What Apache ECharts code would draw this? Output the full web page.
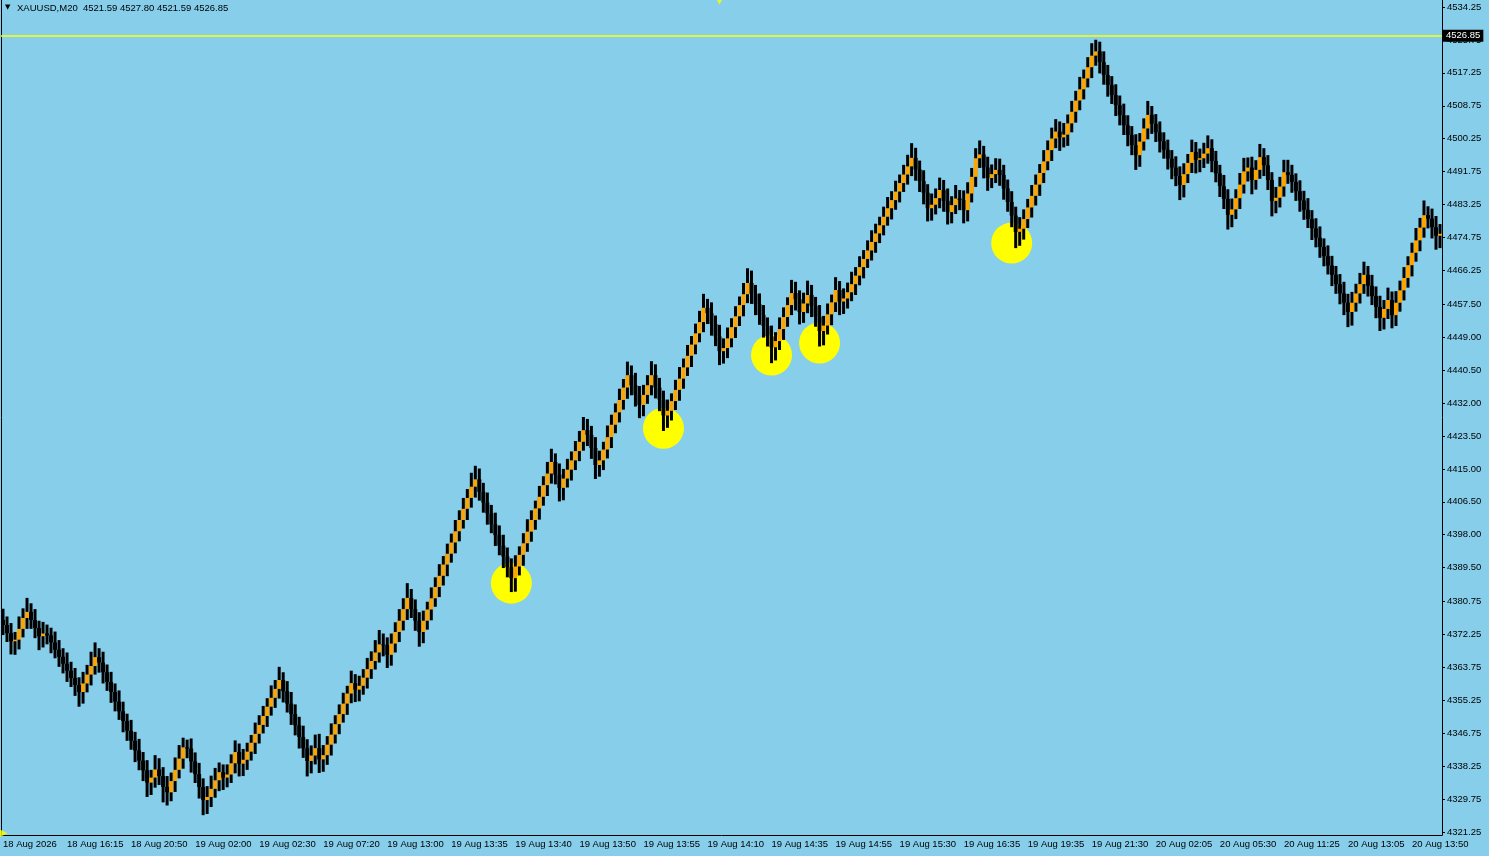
<!DOCTYPE html>
<html>
<head>
<meta charset="utf-8">
<script src="https://cdn.jsdelivr.net/npm/echarts@6/dist/echarts.min.js"></script>
<style>
html,body{margin:0;padding:0;background:#87CEEB;}
#chart{width:1489px;height:856px;}
</style>
</head>
<body>
<div id="chart"></div>
<script>
// ---- data ----
const symbolTitle = 'XAUUSD,M20  4521.59 4527.80 4521.59 4526.85';
const bidPrice = 4526.85;
const timeLabels = ['18 Aug 2026','18 Aug 16:15','18 Aug 20:50','19 Aug 02:00','19 Aug 02:30','19 Aug 07:20','19 Aug 13:00','19 Aug 13:35','19 Aug 13:40','19 Aug 13:50','19 Aug 13:55','19 Aug 14:10','19 Aug 14:35','19 Aug 14:55','19 Aug 15:30','19 Aug 16:35','19 Aug 19:35','19 Aug 21:30','20 Aug 02:05','20 Aug 05:30','20 Aug 11:25','20 Aug 13:05','20 Aug 13:50'];
const barsPerLabel = 16;
const priceTicks = [4534.25,4525.75,4517.25,4508.75,4500.25,4491.75,4483.25,4474.75,4466.25,4457.50,4449.00,4440.50,4432.00,4423.50,4415.00,4406.50,4398.00,4389.50,4380.75,4372.25,4363.75,4355.25,4346.75,4338.25,4329.75,4321.25];
const firstOpen = 4376.0;
const closes = [
4374.7,4372.6,4370.5,4370.9,4373.7,4376.5,4378.1,4376.0,4373.9,4371.8,4372.5,4372.0,4370.2,4368.3,4366.5,4364.7,4362.9,4361.0,4359.2,4357.4,
4359.6,4361.9,4364.1,4366.4,4365.0,4362.5,4360.0,4357.4,4354.9,4352.4,4349.9,4347.4,4344.8,4342.3,4339.7,4337.2,4334.0,4335.3,4337.4,4335.7,
4332.9,4331.5,4334.4,4337.3,4340.2,4343.1,4342.8,4339.5,4336.2,4332.9,4329.5,4330.3,4332.4,4334.6,4336.7,4335.3,4336.1,4339.0,4341.9,4338.9,
4339.9,4342.0,4344.3,4346.6,4348.9,4351.2,4353.6,4355.9,4358.2,4360.5,4357.6,4354.4,4351.7,4348.8,4345.8,4342.9,4339.6,4341.0,4342.9,4340.0,
4341.1,4343.8,4346.4,4349.1,4351.7,4354.4,4357.0,4359.7,4358.0,4359.0,4361.1,4363.3,4365.4,4367.6,4369.7,4369.5,4367.0,4369.9,4372.9,4375.8,
4378.8,4381.7,4378.8,4375.8,4372.9,4375.8,4378.7,4381.6,4384.5,4387.4,4390.3,4393.1,4396.0,4398.9,4401.8,4404.7,4407.5,4410.4,4412.3,4409.1,
4406.3,4403.5,4400.7,4397.9,4395.2,4392.4,4389.6,4386.8,4389.8,4392.8,4395.8,4398.8,4401.8,4404.8,4407.8,4410.8,4413.8,4416.8,4413.5,4410.1,
4412.5,4414.8,4417.2,4419.6,4422.0,4425.0,4423.8,4420.4,4416.0,4417.2,4420.0,4423.2,4426.4,4429.6,4432.8,4436.0,4439.2,4436.6,4434.1,4431.5,
4434.1,4436.6,4439.2,4436.0,4432.9,4428.8,4430.0,4432.5,4435.4,4438.3,4441.2,4444.2,4447.1,4450.0,4452.9,4456.6,4455.2,4452.4,4449.2,4445.4,
4446.2,4448.7,4451.6,4454.4,4457.3,4460.1,4463.0,4460.2,4457.5,4454.7,4451.9,4449.2,4446.4,4448.0,4451.1,4454.2,4457.3,4460.4,4458.8,4455.5,
4457.7,4459.9,4457.1,4454.3,4450.6,4452.0,4454.9,4458.0,4461.2,4458.2,4459.0,4460.6,4462.7,4464.9,4467.1,4469.2,4471.4,4473.6,4475.8,4477.9,
4480.1,4482.3,4484.4,4486.6,4488.8,4491.0,4493.1,4495.3,4492.3,4489.3,4486.3,4482.3,4483.2,4484.9,4487.0,4484.2,4481.3,4483.1,4484.8,4484.4,
4481.8,4486.1,4490.4,4495.2,4496.2,4492.8,4490.1,4491.1,4492.2,4490.9,4487.4,4483.9,4480.4,4476.2,4477.0,4479.5,4482.5,4485.5,4488.4,4491.4,
4494.4,4497.3,4500.3,4502.1,4500.6,4501.3,4504.2,4507.2,4510.1,4513.0,4515.8,4518.7,4521.7,4522.8,4520.0,4516.7,4514.1,4511.5,4508.9,4506.3,
4503.7,4501.2,4498.6,4496.0,4499.5,4502.9,4506.4,4504.1,4501.9,4499.6,4497.4,4495.1,4492.8,4490.6,4488.3,4491.1,4494.0,4496.8,4494.8,4495.2,
4496.4,4497.8,4494.5,4491.3,4488.0,4484.7,4480.6,4482.0,4484.9,4488.4,4491.8,4492.8,4489.6,4492.2,4495.5,4493.4,4489.6,4484.2,4485.0,4487.9,
4491.6,4490.9,4489.1,4486.7,4484.3,4481.9,4479.5,4477.1,4474.7,4472.3,4469.9,4467.5,4465.1,4462.7,4460.3,4457.9,4455.5,4457.9,4460.3,4462.7,
4465.1,4462.3,4459.6,4456.8,4454.0,4456.3,4458.6,4454.7,4457.9,4461.1,4464.3,4467.6,4470.8,4474.0,4477.3,4480.5,4479.6,4477.4,4475.2,4475.7
];
const upperWicks = [
2.9,2.2,2.6,2.0,3.2,2.5,3.6,2.2,2.8,1.9,3.0,2.3,2.0,2.8,2.5,2.2,2.9,2.3,2.6,2.0,
3.0,2.5,3.7,3.8,2.3,2.8,2.0,2.6,2.2,2.9,2.5,1.9,2.8,2.3,3.0,2.2,2.6,2.0,3.7,2.9,
2.3,2.8,2.2,3.2,3.5,2.5,2.0,2.6,2.3,2.9,2.2,2.8,3.4,3.2,2.5,2.0,2.6,2.3,3.0,2.2,
2.8,2.3,2.0,2.9,2.5,2.6,2.2,3.2,2.3,3.4,2.0,2.6,3.0,2.5,2.2,2.9,2.3,2.6,3.5,3.7,
2.6,2.2,2.9,2.3,2.5,2.8,2.0,3.2,2.3,2.6,2.2,2.9,2.5,3.2,3.7,2.8,2.0,2.6,2.5,3.0,
2.8,3.8,2.3,2.5,2.2,2.6,2.0,2.8,2.5,3.0,2.2,2.6,2.3,2.9,2.5,2.8,2.3,3.6,3.5,2.8,
2.3,2.6,2.2,3.0,2.5,2.8,2.3,2.3,2.9,2.2,2.6,3.2,2.5,2.0,2.8,2.3,3.0,3.4,2.2,2.9,
2.5,2.8,2.3,2.6,2.8,3.4,2.9,2.3,2.8,2.5,2.0,3.0,2.6,2.3,2.9,2.2,3.5,2.5,3.2,2.3,
2.6,2.6,3.6,2.8,2.5,2.3,2.9,2.0,2.6,3.0,2.3,2.8,2.2,2.5,2.9,3.6,2.3,2.8,2.2,3.0,
2.5,2.8,2.3,2.6,2.2,2.9,3.8,3.2,2.3,2.8,2.6,2.2,2.8,2.3,3.0,2.5,2.0,3.4,2.9,2.3,
2.8,3.7,2.6,2.3,3.0,2.5,2.8,2.0,3.3,2.3,2.6,2.5,3.2,2.2,2.8,2.3,2.6,3.0,2.5,2.2,
2.6,2.9,2.3,2.8,2.2,2.5,3.0,3.8,2.6,2.3,2.8,2.2,2.9,2.5,3.2,2.6,3.2,2.3,3.5,2.2,
2.5,2.9,2.3,2.6,3.6,2.2,2.8,2.5,3.0,2.9,2.6,2.3,2.8,2.3,3.0,2.5,2.2,2.8,2.6,2.3,
2.9,2.5,2.8,3.2,2.6,3.0,2.3,2.8,2.5,3.2,2.3,2.6,3.2,3.0,2.5,2.8,2.6,2.3,2.8,2.5,
3.0,2.6,2.3,2.8,2.2,2.6,3.6,2.3,2.5,2.8,2.3,2.6,2.2,2.9,2.5,2.8,2.3,3.2,2.6,2.5,
2.8,3.3,2.3,2.6,2.2,2.9,2.5,2.8,2.3,3.0,3.5,2.6,2.8,2.5,3.4,2.3,2.6,2.0,2.8,2.5,
3.2,3.2,2.6,2.2,2.8,2.5,3.0,2.3,2.6,2.9,2.2,2.8,2.5,2.3,2.6,3.0,2.3,2.8,2.5,2.9,
3.4,2.3,2.8,2.5,2.9,2.3,3.2,2.2,3.0,2.5,2.8,2.3,2.6,3.2,2.5,3.8,2.3,2.6,2.9,2.5
];
const lowerWicks = [
2.6,2.3,3.4,3.5,2.5,2.2,2.8,2.3,2.6,3.6,2.9,2.3,2.8,2.2,2.6,2.5,2.9,2.3,2.8,3.8,
3.0,2.3,2.8,2.2,2.6,2.9,2.3,2.8,2.5,2.2,2.9,2.6,2.3,3.0,2.5,2.8,3.7,3.2,2.6,2.3,
4.0,3.4,2.3,2.8,2.2,2.6,2.5,2.9,2.3,3.0,3.9,3.6,2.6,2.3,2.8,3.2,2.5,2.2,2.6,3.3,
3.2,2.6,2.3,2.9,2.5,2.2,2.8,2.3,2.6,2.5,2.9,2.3,2.8,2.6,3.0,2.5,4.0,3.2,2.3,3.5,
3.2,2.5,2.8,2.3,2.6,2.2,2.9,2.5,3.2,3.0,2.3,2.8,2.5,2.2,2.6,2.9,3.4,2.8,2.3,2.6,
2.5,2.8,2.3,2.6,3.8,2.9,2.3,2.8,2.2,2.6,2.5,3.0,2.3,2.8,2.6,2.2,2.9,2.5,2.8,2.3,
2.6,2.9,2.3,2.8,2.5,3.0,2.6,3.6,3.5,2.3,2.8,2.2,2.6,2.5,2.9,2.3,2.8,2.6,2.5,3.5,
3.2,2.3,2.8,2.5,2.6,2.3,2.9,2.8,3.6,3.0,2.5,2.3,2.8,2.2,2.6,2.5,2.9,2.6,3.0,3.4,
2.9,2.3,2.6,2.8,3.0,4.0,3.2,2.5,2.3,2.8,2.6,2.2,2.9,2.5,2.3,2.6,2.8,3.0,2.5,3.6,
3.2,2.6,2.3,2.8,2.5,2.9,2.3,2.6,2.8,2.5,3.0,2.6,4.1,3.4,2.3,2.8,2.5,2.6,2.9,3.2,
2.8,2.5,2.9,2.6,4.0,3.7,2.3,2.8,2.5,3.5,3.2,2.6,2.3,2.8,2.5,2.9,2.3,2.6,2.8,2.5,
2.6,2.3,2.9,2.5,2.8,2.3,2.6,2.5,2.9,2.8,3.0,3.4,3.2,2.5,2.6,2.8,3.2,2.9,2.3,2.6,
3.4,2.9,2.3,2.6,2.5,2.8,3.3,2.6,2.3,2.8,2.9,2.5,3.0,4.2,3.6,2.8,2.3,2.6,2.5,2.9,
2.6,2.3,2.8,2.5,3.5,2.6,2.9,2.3,2.8,2.5,2.6,2.3,2.8,2.6,2.9,2.5,3.0,2.3,2.8,2.6,
2.5,2.9,2.6,3.8,3.0,2.3,2.8,2.6,2.5,2.9,2.3,2.8,3.0,2.6,3.9,3.2,2.3,2.6,3.5,3.2,
2.5,2.6,2.9,2.3,2.8,2.6,3.8,3.2,2.5,2.8,2.3,2.6,3.7,2.5,2.3,2.8,2.6,4.0,3.2,2.5,
2.6,2.3,2.8,2.5,2.9,2.6,2.3,3.0,2.5,2.8,2.6,2.3,2.9,2.5,2.8,3.2,3.9,3.5,2.3,2.6,
2.5,2.8,2.3,2.9,3.4,3.0,2.6,3.4,2.8,2.3,2.6,2.5,2.9,2.3,2.8,2.6,2.5,2.9,3.6,3.2
];
// yellow circle markers: [bar index, price]
const circleMarks = [[127,4385.5],[165,4425.5],[192,4444.4],[204,4447.5],[252,4473.3]];
// yellow arrow objects: [bar index, price, rotation]
const arrowMarks = [[179,4536.0,180],[0,4320.9,-90]];

// ---- build ----
const cats = closes.map((c,i)=> i % barsPerLabel === 0 && timeLabels[i/barsPerLabel] ? timeLabels[i/barsPerLabel] : '');
const ohlc = closes.map((c,i)=>{
  const o = i === 0 ? firstOpen : closes[i-1];
  return [i, o, c, Math.min(o,c) - lowerWicks[i], Math.max(o,c) + upperWicks[i]];
});
const FONT = 'Liberation Sans';
const FS = 9.5;
const Y_MIN = 4320.48, Y_MAX = 4536.06;
const showIdx = (idx) => idx % barsPerLabel === 0;

const chart = echarts.init(document.getElementById('chart'), null, {renderer:'canvas'});
chart.setOption({
  animation: false,
  backgroundColor: '#87CEEB',
  textStyle: {fontFamily: FONT},
  title: {
    text: symbolTitle, left: 17, top: 3, padding: 0,
    textStyle: {fontSize: FS, fontWeight: 'normal', color: '#000', fontFamily: FONT}
  },
  graphic: [{type:'text', left: 5, top: 4, style:{text:'▼', fontSize: 7, fill:'#000', fontFamily:'DejaVu Sans'}}],
  grid: {left: 0, right: 47, top: 0, bottom: 21, containLabel: false},
  xAxis: {
    type: 'category', data: cats, boundaryGap: true,
    axisLine: {lineStyle: {color: '#000', width: 1}},
    axisTick: {alignWithLabel: true, interval: showIdx, length: 4, lineStyle:{color:'#000'}},
    axisLabel: {interval: showIdx, align: 'left', margin: 4, fontSize: FS, color: '#000', fontFamily: FONT},
    splitLine: {show: false}
  },
  yAxis: [{
    type: 'value', position: 'right', min: Y_MIN, max: Y_MAX, scale: true,
    axisLine: {show: true, lineStyle: {color: '#000'}},
    axisTick: {show: true, length: 3, customValues: priceTicks, lineStyle:{color:'#000'}},
    axisLabel: {customValues: priceTicks, margin: 5, fontSize: FS, color: '#000', fontFamily: FONT,
      formatter: v => v.toFixed(2)},
    splitLine: {show: false}
  },{
    type: 'value', position: 'left', min: Y_MIN, max: Y_MAX,
    axisLine: {show: true, lineStyle: {color: '#000'}},
    axisTick: {show: false}, axisLabel: {show: false}, splitLine: {show: false}
  }],
  series: [
    {
      type: 'scatter', z: 1, data: circleMarks, symbol: 'circle', symbolSize: 41,
      itemStyle: {color: '#FFFF00', opacity: 1}, silent: true
    },
    {
      type: 'custom', z: 2, data: ohlc, clip: true,
      encode: {x: 0, y: [1,2,3,4]},
      renderItem: function(params, api){
        const i = api.value(0), o = api.value(1), c = api.value(2), l = api.value(3), h = api.value(4);
        const pO = api.coord([i, o]), pC = api.coord([i, c]), pL = api.coord([i, l]), pH = api.coord([i, h]);
        const bw = api.size([1, 0])[0];
        const x = pO[0];
        const top = Math.min(pO[1], pC[1]);
        const hgt = Math.max(1, Math.abs(pO[1] - pC[1]));
        return {type:'group', children:[
          {type:'rect', shape:{x: x - 1.5, y: pH[1], width: 3, height: pL[1] - pH[1]}, style:{fill:'#000'}},
          {type:'rect', shape:{x: x - bw/2, y: top, width: bw, height: hgt}, style:{fill: c > o ? '#FFA500' : '#000'}}
        ]};
      },
      markLine: {
        silent: true, symbol: ['none','none'], animation: false,
        lineStyle: {color: '#FFFF00', width: 1.5, type: 'solid', opacity: 1},
        emphasis: {disabled: true},
        label: {show: true, position: 'end', distance: 1, formatter: () => bidPrice.toFixed(2),
          backgroundColor: '#000', color: '#fff', padding: [1,3,1,3], fontSize: FS, fontFamily: FONT},
        data: [{yAxis: bidPrice}]
      }
    },
    {
      type: 'scatter', z: 3, symbol: 'triangle', symbolSize: 9, silent: true,
      data: arrowMarks.map(a => ({value: [a[0], a[1]], symbolRotate: a[2]})),
      itemStyle: {color: '#FFFF00'}
    }
  ]
});
</script>
</body>
</html>
